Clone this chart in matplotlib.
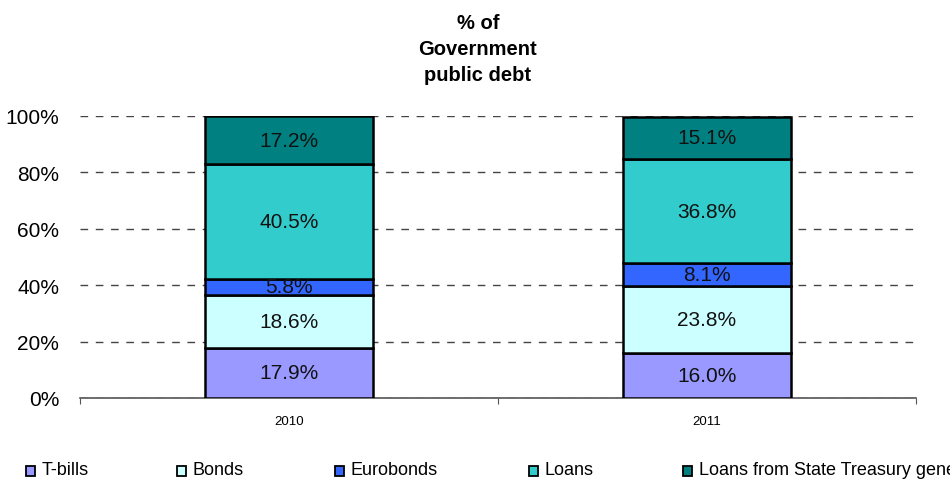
import matplotlib
matplotlib.use("Agg")
import matplotlib.pyplot as plt
from matplotlib.patches import Rectangle
import numpy as np

plt.rcParams["font.family"] = ["Liberation Sans", "DejaVu Sans"]

years = ["2010", "2011"]
series = ["T-bills", "Bonds", "Eurobonds", "Loans",
          "Loans from State Treasury general government"]
tbills = [17.9, 16.0]
bonds = [18.6, 23.8]
eurobonds = [5.8, 8.1]
loans = [40.5, 36.8]
treasury = [17.2, 15.1]
colors = ["#9999ff", "#ccffff", "#3366ff", "#33cccc", "#008080"]

fig = plt.figure(figsize=(9.5, 4.81), dpi=100)
ax = fig.add_axes([0.0842, 0.1705, 0.88, 0.5863])

x = np.arange(len(years))
bottom = np.zeros(len(years))
for vals, col in zip([tbills, bonds, eurobonds, loans, treasury], colors):
    vals = np.array(vals)
    ax.bar(x, vals, width=0.4, bottom=bottom, color=col, edgecolor="black",
           linewidth=1.8, zorder=3)
    for xi, b, v in zip(x, bottom, vals):
        ax.text(xi, b + v / 2, f"{v:.1f}%", ha="center", va="center",
                fontsize=15, color="#111111", zorder=4)
    bottom += vals

ax.set_xlim(-0.5, 1.5)
ax.set_ylim(0, 100)
ax.set_yticks(np.arange(0, 101, 20))
ax.set_yticklabels([f"{v}%" for v in range(0, 101, 20)], fontsize=15)
ax.tick_params(axis="y", length=0, pad=15)
ax.yaxis.grid(True, linestyle=(0, (5.5, 5.5)), color="#444444", linewidth=1.0, zorder=0)

# category boundaries get the tick marks, year labels sit in between
ax.set_xticks([-0.5, 0.5, 1.5])
ax.set_xticklabels([])
ax.tick_params(axis="x", which="major", length=4, direction="out", color="#555555")
ax.set_xticks(x, minor=True)
ax.set_xticklabels(years, minor=True, fontsize=9.5)
ax.tick_params(axis="x", which="minor", length=0, pad=12)

for s in ["top", "right", "left"]:
    ax.spines[s].set_visible(False)
ax.spines["bottom"].set_color("#555555")
ax.spines["bottom"].set_linewidth(1.2)

fig.text(0.503, 0.897, "% of\nGovernment\npublic debt", ha="center", va="center",
         fontsize=14.5, fontweight="bold", linespacing=1.45)

# legend row along the bottom edge
leg_x = [0.0274, 0.1863, 0.3526, 0.5568, 0.7189]
for lx, name, col in zip(leg_x, series, colors):
    fig.add_artist(Rectangle((lx, 0.0083), 0.0095, 0.0208, transform=fig.transFigure,
                             facecolor=col, edgecolor="black", linewidth=1.3))
    fig.text(lx + 0.0168, 0.0208, name, ha="left", va="center", fontsize=13)

fig.savefig("out.png", dpi=100)
